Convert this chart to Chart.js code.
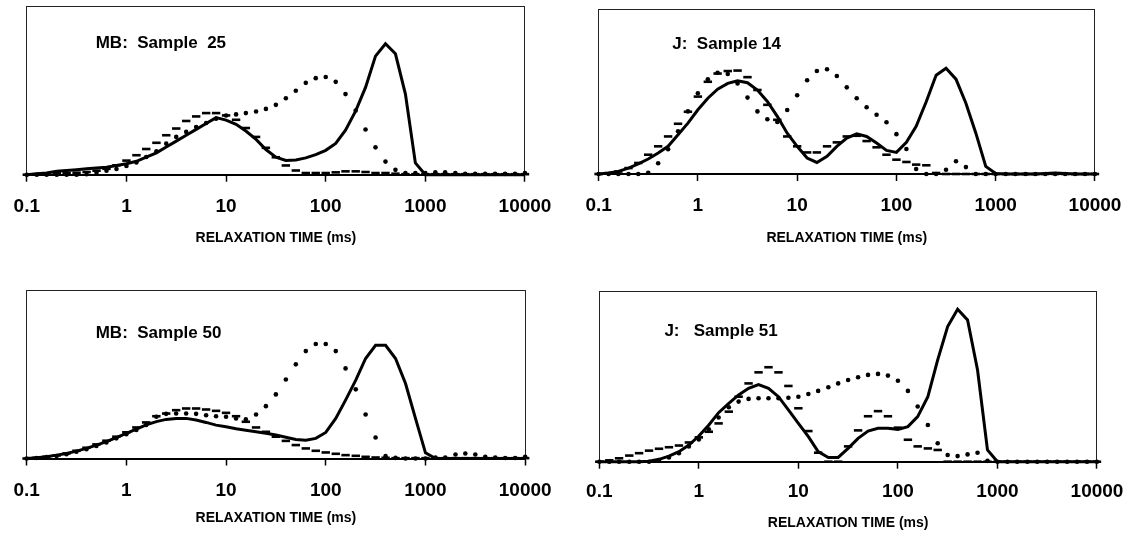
<!DOCTYPE html>
<html>
<head>
<meta charset="utf-8">
<script src="https://cdn.jsdelivr.net/npm/chart.js@4.4.1/dist/chart.umd.min.js"></script>
<style>
  html, body { margin: 0; padding: 0; background: #fff; }
  body { width: 1135px; height: 533px; position: relative; overflow: hidden; }
  .panel { position: absolute; }
  .note { position: absolute; font: bold 17px 'Liberation Sans', Arial, sans-serif; color: #000; white-space: pre; line-height: 20px; }
</style>
</head>
<body>
<script>
// ---- data (relaxation times, 10 points per decade) ----
const times = [0.1, 0.126, 0.158, 0.2, 0.251, 0.316, 0.398, 0.501, 0.631, 0.794,
  1, 1.26, 1.58, 2, 2.51, 3.16, 3.98, 5.01, 6.31, 7.94,
  10, 12.6, 15.8, 20, 25.1, 31.6, 39.8, 50.1, 63.1, 79.4,
  100, 126, 158, 200, 251, 316, 398, 501, 631, 794,
  1000, 1260, 1580, 2000, 2510, 3160, 3980, 5010, 6310, 7940, 10000];
const tickValues = [0.1, 1, 10, 100, 1000, 10000];
const tickLabels = ['0.1', '1', '10', '100', '1000', '10000'];
const axisTitle = 'RELAXATION TIME (ms)';
const panelNames = ['MB:  Sample  25', 'J:  Sample 14', 'MB:  Sample 50', 'J:   Sample 51'];

const mb25Solid = [0, 0.5, 1, 2, 2.5, 3, 3.5, 4, 4.5, 5.5,
  6.5, 8, 10.5, 13, 16.5, 20, 23.5, 27, 30.5, 34,
  32.5, 30, 26, 21, 15, 10.5, 8.5, 8.8, 10, 12,
  14.5, 18.6, 26.5, 38, 52, 70.6, 78, 72, 48, 7,
  0, 0, 0, 0, 0, 0, 0, 0, 0, 0, 0];
const mb25Dotted = [0, 0, 0, 0, 0, 0, 0.3, 1.2, 2.4, 3.4,
  5.2, 7.3, 10.5, 14, 18.5, 22.5, 25.5, 28.4, 30.8, 33.3,
  35.3, 35.9, 36.7, 37.6, 39.2, 41.6, 45.5, 50, 54.7, 57.5,
  58.2, 55.3, 48, 38.2, 26.9, 16.3, 7.8, 2.9, 1, 1,
  1, 1.4, 1.4, 1, 0.6, 0.5, 0.5, 0.5, 0.5, 0.5, 1];
const mb25Dashed = [0, 0.3, 0.5, 0.8, 1, 1.2, 1.6, 2.4, 3.5, 5.6,
  8.4, 11.6, 15.3, 19, 23.5, 27.5, 32, 34.7, 36.7, 36.7,
  35.3, 32.7, 27.8, 22.5, 16, 10.4, 5.5, 2.5, 1, 1,
  1, 1.4, 2, 2, 1.6, 1, 1, 0.6, 0.3, 0.3,
  0.3, 0.3, 0.3, 0.3, 0.3, 0.3, 0.3, 0.3, 0.3, 0.3, 0.3];

const j14Solid = [0, 0.6, 1.6, 3.6, 6.2, 9.1, 12.7, 16.8, 23.8, 30.9,
  39, 46, 51.5, 55, 56.6, 55.4, 51, 44, 35, 24.8,
  16.8, 9.7, 7, 10.7, 16.8, 21.8, 24.4, 22.8, 18.8, 14.3,
  13.1, 19.2, 28.9, 44, 60, 64.2, 57.6, 43, 24.8, 4.6,
  0.3, 0, 0, 0, 0, 0.3, 0.6, 0.3, 0, 0, 0];
const j14Dotted = [0, 0, 0, 0, 0, 0.8, 6.5, 15, 26, 38,
  49, 57.5, 61.5, 60.7, 55, 46.4, 38, 33.2, 31.6, 38.9,
  47.8, 56.9, 62.5, 63.6, 59.5, 52.6, 46, 40.5, 36, 31.4,
  24.2, 15.2, 3, 0, 0, 2.6, 7.7, 4.2, 0, 0,
  0, 0, 0, 0, 0, 0, 0, 0, 0, 0, 0];
const j14Dashed = [0, 0.5, 1.5, 3.6, 6.7, 11.7, 16.8, 22.8, 30.5, 37.8,
  47, 56, 61, 62.5, 62.8, 58.8, 51, 42, 32.9, 22.8,
  16.8, 13.1, 13.1, 16.8, 19.2, 22.8, 23.2, 20, 16.2, 11.7,
  8.7, 7.3, 5.7, 5.3, 0.6, 0, 0, 0, 0, 0,
  0, 0, 0, 0, 0, 0, 0, 0, 0, 0, 0];

const mb50Solid = [0, 0.5, 1, 2, 3, 4.4, 6, 8, 10, 12.5,
  15, 17.5, 20, 22, 23.3, 23.9, 23.9, 22.9, 21.5, 19.9,
  18.9, 17.7, 16.9, 16, 15, 14, 12.7, 11.3, 10.9, 12,
  15.5, 23.9, 34.8, 46.7, 59.6, 67.5, 67.5, 59.6, 44.7, 23.9,
  3.4, 0, 0, 0, 0, 0, 0, 0, 0, 0, 0];
const mb50Dotted = [0, 0.3, 0.8, 1.5, 2.5, 4, 5.5, 7.5, 9.5, 12,
  14.5, 17, 20, 24.9, 26.6, 26.8, 26.8, 26.6, 25.8, 25.2,
  24.9, 23.9, 23.3, 26.2, 31.2, 38.2, 47.1, 56.1, 64, 68.2,
  68.2, 64, 53.7, 41.2, 26.2, 12.5, 1.4, 0.4, 0, 0,
  0, 0.6, 0.6, 2.4, 3, 2.4, 1, 0.6, 0.3, 0.3, 1];
const mb50Dashed = [0, 0.4, 1, 1.8, 3, 4.6, 6.4, 8.4, 10.6, 13,
  15.6, 18.5, 21.5, 25.2, 26.8, 28.8, 29.8, 29.8, 29.2, 28.4,
  27.2, 25.2, 21.9, 18.5, 15.9, 13, 10.5, 8, 6, 4.6,
  3.6, 2.8, 2, 1.6, 1, 0.6, 0.4, 0.2, 0.2, 0.2,
  0.2, 0.2, 0.2, 0.2, 0.2, 0.2, 0.2, 0.2, 0.2, 0.2, 0.2];

const j51Solid = [0, 0, 0, 0, 0, 0.3, 1.4, 3.3, 5.9, 9.8,
  15.1, 21.6, 28.8, 34.3, 39.2, 43.1, 45.3, 43.1, 38.2, 30.4,
  22.5, 14.7, 5.9, 2.5, 2.5, 7.8, 13.7, 18, 19.6, 19.6,
  19, 20.6, 26.5, 38.2, 59.8, 79.4, 89.6, 83.3, 53.9, 6.9,
  0, 0, 0, 0, 0, 0, 0, 0, 0, 0, 0];
const j51Dotted = [0, 0, 0, 0, 0, 0, 1, 2.5, 5, 9,
  13, 19, 26, 32, 35.3, 36.9, 37.3, 37.3, 37.3, 37.6,
  38.2, 39.8, 41.6, 43.7, 46, 48, 49.6, 51, 51.6, 50.6,
  47.6, 41.6, 32.4, 21.6, 10.8, 3.9, 3.3, 4.3, 5.3, 0.5,
  0, 0, 0, 0, 0, 0, 0, 0, 0, 0, 0];
const j51Dashed = [0, 0.8, 2, 3.6, 5, 6.5, 7.6, 8.5, 9.5, 11.3,
  14.3, 17.6, 22.5, 29.4, 38.2, 46, 52.5, 55.5, 52.5, 44.5,
  31.4, 18, 5.3, 0, 0, 9, 18.4, 26.7, 29.7, 26.7,
  20, 12.9, 9, 7.8, 6.9, 0, 0, 0, 0, 0,
  0, 0, 0, 0, 0, 0, 0, 0, 0, 0, 0];

// ---- layout (page pixels) ----
const panels = [
  { solid: mb25Solid, dotted: mb25Dotted, dashed: mb25Dashed, name: panelNames[0],
    cx: 0, cy: 0, cw: 565, ch: 262, left: 23.3, right: 525.7, top: 6, axisY: 174.7, labelY: 206.7, titleY: 238.3,
    noteX: 95.7, noteY: 42.5 },
  { solid: j14Solid, dotted: j14Dotted, dashed: j14Dashed, name: panelNames[1],
    cx: 567, cy: 0, cw: 568, ch: 262, left: 598.6, right: 1102, top: 9.3, axisY: 174, labelY: 206, titleY: 237.7,
    noteX: 672.3, noteY: 44 },
  { solid: mb50Solid, dotted: mb50Dotted, dashed: mb50Dashed, name: panelNames[2],
    cx: 0, cy: 266, cw: 565, ch: 267, left: 23.3, right: 527, top: 290.7, axisY: 458.5, labelY: 490.3, titleY: 518.3,
    noteX: 95.7, noteY: 333.3 },
  { solid: j51Solid, dotted: j51Dotted, dashed: j51Dashed, name: panelNames[3],
    cx: 567, cy: 266, cw: 568, ch: 267, left: 599.3, right: 1102.3, top: 291.5, axisY: 461.7, labelY: 491.7, titleY: 523,
    noteX: 664.4, noteY: 331 }
];

Chart.defaults.font.family = "'Liberation Sans', Arial, sans-serif";
Chart.defaults.color = '#000';

const TICK_LEN = 7;
const TICK_FONT = 19, TICK_LH = 1.2;
const TITLE_FONT = 14, TITLE_LH = 1.2;

function pts(arr) { return times.map((t, i) => ({ x: t, y: arr[i] })); }

panels.forEach((p) => {
  const div = document.createElement('div');
  div.className = 'panel';
  div.style.left = p.cx + 'px';
  div.style.top = p.cy + 'px';
  div.style.width = p.cw + 'px';
  div.style.height = p.ch + 'px';
  const cv = document.createElement('canvas');
  cv.width = p.cw; cv.height = p.ch;
  cv.style.width = p.cw + 'px'; cv.style.height = p.ch + 'px';
  div.appendChild(cv);
  document.body.appendChild(div);

  const LH = TICK_FONT * TICK_LH, TLH = TITLE_FONT * TITLE_LH;
  const tickPad = p.labelY - p.axisY - TICK_LEN - LH / 2;
  const titlePadTop = p.titleY - p.axisY - TICK_LEN - LH - 2 * tickPad - TLH / 2;
  const axisH = TICK_LEN + LH + 2 * tickPad + TLH + titlePadTop;
  const padBottom = p.ch - (p.axisY - p.cy) - axisH;

  new Chart(cv, {
    type: 'line',
    data: {
      datasets: [
        { data: pts(p.solid), borderColor: '#000', borderWidth: 3, pointRadius: 0, tension: 0, clip: false, fill: false },
        { data: pts(p.dotted), showLine: false, pointStyle: 'circle', pointRadius: 2.3, pointBackgroundColor: '#000', pointBorderWidth: 0, clip: false },
        { data: pts(p.dashed), showLine: false, pointStyle: 'line', pointRadius: 4.2, pointBorderColor: '#000', pointBorderWidth: 2.6, clip: false }
      ]
    },
    options: {
      responsive: false,
      animation: false,
      devicePixelRatio: 1,
      events: [],
      layout: { padding: { left: p.left - p.cx, right: p.cx + p.cw - p.right, top: p.top - p.cy, bottom: padBottom } },
      plugins: { legend: { display: false }, tooltip: { enabled: false } },
      scales: {
        x: {
          type: 'logarithmic', position: 'bottom', min: 0.1, max: 10000,
          afterBuildTicks: (s) => { s.ticks = tickValues.map(v => ({ value: v })); },
          ticks: {
            callback: (v, i) => tickLabels[i],
            autoSkip: false, maxRotation: 0, minRotation: 0,
            padding: tickPad, color: '#000',
            font: { size: TICK_FONT, weight: 'bold', lineHeight: TICK_LH }
          },
          grid: { drawOnChartArea: false, drawTicks: true, tickLength: TICK_LEN, tickColor: '#000', tickWidth: 1.5, color: '#000' },
          border: { display: true, color: '#000', width: 2 },
          title: { display: true, text: axisTitle, color: '#000',
                   font: { size: TITLE_FONT, weight: 'bold', lineHeight: TITLE_LH },
                   padding: { top: titlePadTop, bottom: 0 } }
        },
        xTop: {
          type: 'linear', position: 'top', min: 0, max: 1,
          ticks: { display: false },
          grid: { display: false, drawTicks: false },
          border: { display: true, color: '#222', width: 1 }
        },
        y: {
          type: 'linear', position: 'left', min: 0, max: 100,
          ticks: { display: false },
          grid: { display: false, drawTicks: false },
          border: { display: true, color: '#222', width: 1 }
        },
        yRight: {
          type: 'linear', position: 'right', min: 0, max: 1,
          ticks: { display: false },
          grid: { display: false, drawTicks: false },
          border: { display: true, color: '#222', width: 1 }
        }
      }
    }
  });

  const note = document.createElement('div');
  note.className = 'note';
  note.textContent = p.name;
  note.style.left = p.noteX + 'px';
  note.style.top = (p.noteY - 10) + 'px';
  document.body.appendChild(note);
});
</script>
</body>
</html>
